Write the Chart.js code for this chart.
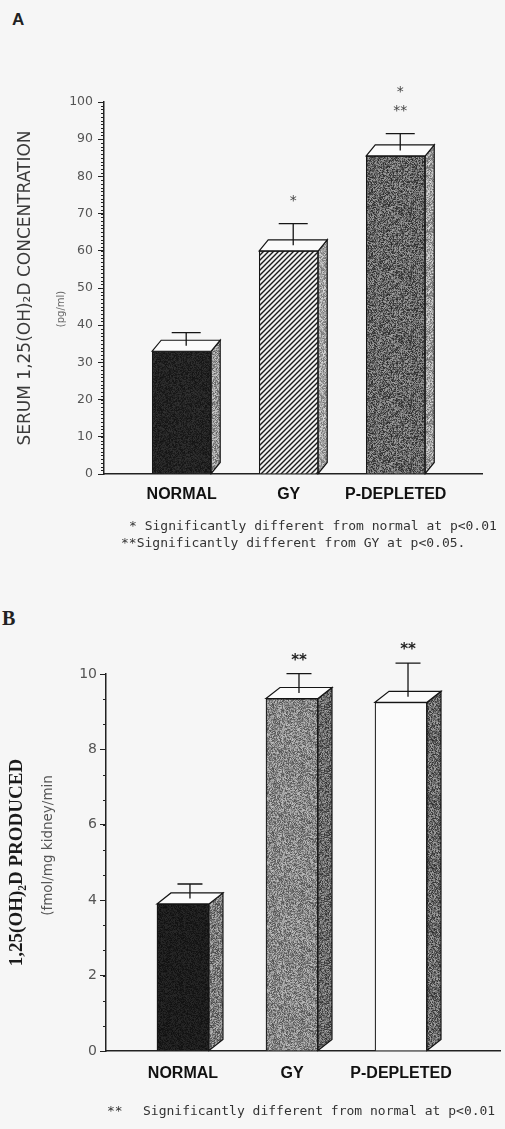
<!DOCTYPE html>
<html><head><meta charset="utf-8">
<script src="https://cdn.jsdelivr.net/npm/chart.js@4.4.1/dist/chart.umd.min.js"></script>
<style>
html,body{margin:0;padding:0;background:#f6f6f6;width:505px;height:1129px;overflow:hidden;position:relative}
canvas{position:absolute;left:0}
.t{position:absolute;white-space:pre;font-family:"DejaVu Sans Mono";font-size:13px;color:#333;line-height:17px}
</style></head><body>
<div class="t" style="left:12px;top:10px;font:bold 17px 'Liberation Sans';line-height:20px;color:#222">A</div>
<canvas id="ca" width="505" height="560" style="top:0"></canvas>
<div class="t" style="left:129px;top:517px">* Significantly different from normal at p&lt;0.01</div>
<div class="t" style="left:121px;top:534px">**Significantly different from GY at p&lt;0.05.</div>
<div class="t" style="left:2px;top:607px;font:bold 20px 'Liberation Serif';line-height:22px;color:#222">B</div>
<canvas id="cb" width="505" height="540" style="top:560px"></canvas>
<div class="t" style="left:107px;top:1102px">**</div>
<div class="t" style="left:143px;top:1102px">Significantly different from normal at p&lt;0.01</div>
<script>
// ---- Panel A data ----
const catsA = ['NORMAL', 'GY', 'P-DEPLETED'];
const valuesA = [33, 60, 85.5];
const errorsA = [5, 7.3, 6];
const sigA = [[], ['*'], ['*', '**']];
const yMaxA = 100, yStepA = 10, yMinorA = 1;

// ---- Panel B data ----
const catsB = ['NORMAL', 'GY', 'P-DEPLETED'];
const valuesB = [3.9, 9.35, 9.25];
const errorsB = [0.53, 0.66, 1.04];
const sigB = [[], ['**'], ['**']];
const yMaxB = 10, yStepB = 2, yMinorB = 2 / 3;

// ---- textures ----
function noisePat(base, amp, seed) {
  const c = document.createElement('canvas'); c.width = c.height = 64;
  const g = c.getContext('2d'); const im = g.createImageData(64, 64);
  for (let y = 0; y < 64; y++) for (let x = 0; x < 64; x++) {
    let h = (Math.imul(x + 1, 374761393) + Math.imul(y + 7, 668265263) + Math.imul(seed, 982451653)) | 0;
    h = Math.imul(h ^ (h >>> 13), 1274126177); h = (h ^ (h >>> 16)) >>> 0;
    const v = Math.max(0, Math.min(255, base + ((h & 255) / 255 - 0.5) * amp));
    const o = (y * 64 + x) * 4; im.data[o] = im.data[o + 1] = im.data[o + 2] = v; im.data[o + 3] = 255;
  }
  g.putImageData(im, 0, 0); return g.createPattern(c, 'repeat');
}
function hatchPat() {
  const c = document.createElement('canvas'); c.width = c.height = 5;
  const g = c.getContext('2d'); g.fillStyle = '#f2f2f2'; g.fillRect(0, 0, 5, 5);
  g.strokeStyle = '#1a1a1a'; g.lineWidth = 1.4; g.beginPath();
  g.moveTo(-1, 6); g.lineTo(6, -1); g.moveTo(-1, 1); g.lineTo(1, -1); g.moveTo(4, 6); g.lineTo(6, 4); g.stroke();
  return g.createPattern(c, 'repeat');
}

function threeD(vals, errs, sigs, cfg) {
  return { id: 'threeD', afterDatasetsDraw(chart) {
    const ctx = chart.ctx, meta = chart.getDatasetMeta(0), ys = chart.scales.y;
    meta.data.forEach((bar, i) => {
      const { x, y, base, width } = bar.getProps(['x', 'y', 'base', 'width'], true);
      const x0 = x - width / 2, x1 = x + width / 2, dx = cfg.dx, dy = cfg.dy;
      ctx.save(); ctx.lineWidth = cfg.lw; ctx.strokeStyle = '#151515'; ctx.lineJoin = 'miter';
      ctx.beginPath(); ctx.moveTo(x1, y); ctx.lineTo(x1 + dx, y - dy); ctx.lineTo(x1 + dx, base - dy); ctx.lineTo(x1, base); ctx.closePath();
      ctx.fillStyle = cfg.sideFills[i]; ctx.fill(); ctx.stroke();
      ctx.beginPath(); ctx.moveTo(x0, y); ctx.lineTo(x0 + dx, y - dy); ctx.lineTo(x1 + dx, y - dy); ctx.lineTo(x1, y); ctx.closePath();
      ctx.fillStyle = cfg.topFill; ctx.fill(); ctx.stroke();
      const cx = x + dx / 2, cy = y - dy / 2, ey = ys.getPixelForValue(vals[i] + errs[i]);
      ctx.lineWidth = cfg.elw; ctx.beginPath();
      ctx.moveTo(cx, cy); ctx.lineTo(cx, ey); ctx.moveTo(cx - cfg.capW / 2, ey); ctx.lineTo(cx + cfg.capW / 2, ey); ctx.stroke();
      ctx.font = cfg.sigFont; ctx.fillStyle = cfg.sigColor; ctx.textAlign = 'center'; ctx.textBaseline = 'middle';
      const lines = sigs[i];
      lines.forEach((t, k) => ctx.fillText(t, cx, ey - cfg.sigOff - (lines.length - 1 - k) * cfg.sigLH));
      ctx.restore();
    });
  } };
}
function minorTicks(step, max, len) {
  return { id: 'minor', afterDraw(chart) {
    const ys = chart.scales.y, ctx = chart.ctx, x = ys.right;
    ctx.save(); ctx.strokeStyle = '#222'; ctx.lineWidth = 1; ctx.beginPath();
    for (let k = 0; k * step <= max + 1e-9; k++) {
      const py = Math.round(ys.getPixelForValue(k * step)) + 0.5;
      ctx.moveTo(x - len, py); ctx.lineTo(x, py);
    }
    ctx.stroke(); ctx.restore();
  } };
}
function subTitle(text, font, color, offX, offY) {
  return { id: 'subtitle', afterDraw(chart) {
    const ys = chart.scales.y, ctx = chart.ctx;
    ctx.save(); ctx.translate(ys.left + offX, (ys.top + ys.bottom) / 2 + offY); ctx.rotate(-Math.PI / 2);
    ctx.font = font; ctx.fillStyle = color; ctx.textAlign = 'center'; ctx.textBaseline = 'middle';
    ctx.fillText(text, 0, 0); ctx.restore();
  } };
}

const hatch = hatchPat();
// Panel A
new Chart(document.getElementById('ca'), {
  type: 'bar',
  data: { datasets: [{
    data: valuesA.map((v, i) => ({ x: i, y: v })),
    backgroundColor: [noisePat(34, 30, 1), hatch, noisePat(100, 120, 2)],
    borderColor: '#151515', borderWidth: 1.2, borderSkipped: 'start', barThickness: 59
  }] },
  options: {
    responsive: false, animation: false, events: [],
    layout: { padding: { top: 102, right: 23, left: 0, bottom: 0 } },
    plugins: { legend: { display: false }, tooltip: { enabled: false } },
    scales: {
      x: { type: 'linear', min: -0.726, max: 2.806, offset: false,
        afterFit(s) { s.height = 86; },
        afterBuildTicks(s) { s.ticks = catsA.map((_, i) => ({ value: i })); },
        grid: { display: false, offset: false }, border: { display: true, color: '#222', width: 1.5 },
        ticks: { callback: v => catsA[v], font: { family: 'Liberation Sans', weight: 'bold', size: 16 }, color: '#111', padding: 3, maxRotation: 0, autoSkip: false } },
      y: { min: 0, max: yMaxA, afterFit(s) { s.width = 104; },
        ticks: { stepSize: yStepA, font: { family: 'DejaVu Sans', size: 12.5 }, color: '#555', padding: 5 },
        grid: { drawOnChartArea: false, tickLength: 6, color: '#222' },
        border: { color: '#222', width: 1.5 },
        title: { display: true, text: 'SERUM 1,25(OH)₂D CONCENTRATION', font: { family: 'DejaVu Sans', size: 17 }, color: '#3a3a3a', padding: { top: 15, bottom: 0 } } }
    }
  },
  plugins: [
    threeD(valuesA, errorsA, sigA, { dx: 9, dy: 11, lw: 1.2, elw: 1.3, capW: 29,
      sideFills: [noisePat(150, 110, 3), noisePat(165, 100, 4), noisePat(160, 110, 5)], topFill: '#fbfbfb',
      sigFont: '14px "DejaVu Sans"', sigColor: '#444', sigOff: 22, sigLH: 19 }),
    minorTicks(yMinorA, yMaxA, 3),
    subTitle('(pg/ml)', '10px "DejaVu Sans"', '#666', 61, 21)
  ]
});

// Panel B
new Chart(document.getElementById('cb'), {
  type: 'bar',
  data: { datasets: [{
    data: valuesB.map((v, i) => ({ x: i, y: v })),
    backgroundColor: [noisePat(28, 25, 6), noisePat(135, 110, 7), '#fbfbfb'],
    borderColor: '#151515', borderWidth: 1.2, borderSkipped: 'start', barThickness: 52
  }] },
  options: {
    responsive: false, animation: false, events: [],
    layout: { padding: { top: 114, right: 5, left: 0, bottom: 0 } },
    plugins: { legend: { display: false }, tooltip: { enabled: false } },
    scales: {
      x: { type: 'linear', min: -0.706, max: 2.908, offset: false,
        afterFit(s) { s.height = 49; },
        afterBuildTicks(s) { s.ticks = catsB.map((_, i) => ({ value: i })); },
        grid: { display: false, offset: false }, border: { display: true, color: '#222', width: 1.5 },
        ticks: { callback: v => catsB[v], font: { family: 'Liberation Sans', weight: 'bold', size: 16 }, color: '#111', padding: 5, maxRotation: 0, autoSkip: false } },
      y: { min: 0, max: yMaxB, afterFit(s) { s.width = 106; },
        ticks: { stepSize: yStepB, font: { family: 'DejaVu Sans', size: 14 }, color: '#555', padding: 3 },
        grid: { drawOnChartArea: false, tickLength: 6, color: '#222' },
        border: { color: '#222', width: 1.5 },
        title: { display: true, text: '1,25(OH)₂D PRODUCED', font: { family: 'Liberation Serif', weight: 'bold', size: 19 }, color: '#1a1a1a', padding: { top: 6, bottom: 0 } } }
    }
  },
  plugins: [
    threeD(valuesB, errorsB, sigB, { dx: 14, dy: 11, lw: 1.2, elw: 1.3, capW: 25,
      sideFills: [noisePat(125, 110, 8), noisePat(105, 110, 9), noisePat(105, 120, 10)], topFill: '#fbfbfb',
      sigFont: 'bold 15px "DejaVu Sans"', sigColor: '#222', sigOff: 13, sigLH: 17 }),
    minorTicks(yMinorB, yMaxB, 3),
    subTitle('(fmol/mg kidney/min', '13.5px "DejaVu Sans"', '#555', 48, -17)
  ]
});
</script>
</body></html>
